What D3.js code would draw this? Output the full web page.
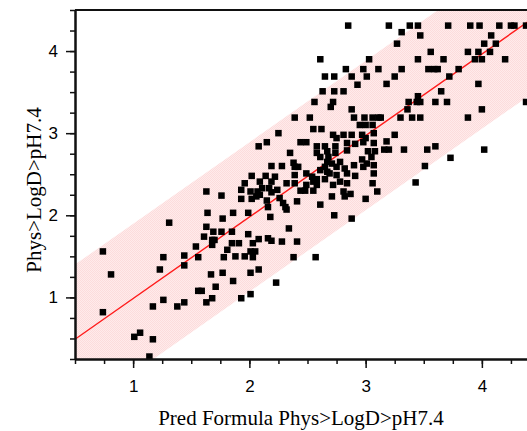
<!DOCTYPE html>
<html>
<head>
<meta charset="utf-8">
<script src="https://cdn.jsdelivr.net/npm/d3@7"></script>
<style>
body { margin: 0; background: #fff; }
svg { display: block; }
</style>
</head>
<body>
<svg id="chart" width="527" height="431"></svg>
<script>
let predX = [
  1.63,1.76,1.64,1.77,1.31,1.63,1.69,1.76,1.61,1.68,1.70,1.68,1.54,0.74,1.26,1.44,1.56,1.78,1.44,1.23,
  0.81,1.67,1.77,1.71,1.56,1.59,1.26,1.44,1.68,1.63,1.17,1.38,0.74,1.06,1.01,1.17,1.14,
  2.01,2.08,1.86,2.23,2.01,1.93,
  2.25,2.55,2.62,2.72,2.81,2.75,2.88,2.97,3.00,3.07,
  2.08,2.15,2.44,2.49,2.58,2.65,2.74,2.84,2.91,2.98,3.07,
  2.35,2.58,2.61,2.67,2.68,2.74,2.84,3.02,3.08,
  2.67,2.71,2.78,2.97,3.01,3.05,
  2.19,2.28,2.38,2.39,2.42,2.61,2.65,2.67,2.69,2.75,2.82,2.90,2.98,3.07,
  2.02,2.14,2.22,2.39,2.49,2.54,2.58,2.65,2.75,2.84,2.91,3.07,
  1.96,2.09,2.19,2.32,2.39,2.49,2.55,2.58,2.72,2.78,2.84,3.06,
  1.93,2.01,2.07,2.11,2.17,2.19,2.24,2.44,2.48,2.55,2.71,2.81,2.82,2.87,3.00,3.10,
  1.93,2.02,2.06,2.09,2.15,2.26,2.29,2.41,2.61,
  2.16,2.31,2.32,2.73,2.88,1.86,1.99,2.18,
  1.85,1.99,2.34,
  1.85,1.91,2.08,2.16,2.19,2.41,2.03,2.28,
  1.81,2.01,2.05,1.88,1.96,2.03,2.38,2.57,
  2.85,2.61,3.03,2.83,2.98,2.65,2.73,2.88,3.01,2.93,2.63,2.73,2.81,2.72,2.56,2.70,2.88,
  2.39,2.52,2.90,2.99,3.06,2.95,3.00,3.06,
  3.20,3.38,3.45,3.71,3.90,3.98,4.15,4.25,4.28,4.38,
  3.31,3.47,3.27,4.08,4.02,4.12,3.56,3.88,3.97,4.07,
  3.45,3.67,3.94,4.00,4.20,3.11,3.31,3.54,3.59,3.62,3.80,
  3.25,3.72,3.18,3.97,3.65,3.45,3.37,3.44,3.47,3.60,3.70,4.38,3.36,4.00,
  3.11,3.13,3.30,3.40,3.47,3.88,
  3.25,3.18,3.16,3.20,3.33,3.53,3.60,4.02,3.73,3.51,3.43
]
let physY = [
  2.29,2.24,2.03,1.96,1.91,1.86,1.80,1.80,1.74,1.70,1.70,1.64,1.62,1.56,1.49,1.51,1.49,1.49,1.39,1.34,
  1.28,1.28,1.30,1.13,1.08,1.08,0.97,0.94,0.99,0.94,0.89,0.89,0.82,0.57,0.52,0.49,0.28,
  1.30,1.34,1.20,1.18,1.04,0.99,
  3.00,3.05,3.05,2.98,2.98,2.94,2.98,2.98,2.94,3.00,
  2.84,2.89,2.89,2.89,2.84,2.84,2.84,2.88,2.87,2.89,2.88,
  2.76,2.76,2.71,2.78,2.71,2.76,2.79,2.78,2.78,
  2.65,2.63,2.65,2.68,2.63,2.71,
  2.60,2.60,2.64,2.59,2.59,2.55,2.59,2.53,2.51,2.59,2.57,2.61,2.59,2.61,
  2.48,2.48,2.47,2.49,2.51,2.47,2.44,2.44,2.49,2.51,2.48,2.51,
  2.39,2.41,2.41,2.39,2.39,2.37,2.41,2.37,2.37,2.41,2.39,2.39,
  2.31,2.29,2.29,2.33,2.33,2.28,2.31,2.30,2.30,2.30,2.23,2.29,2.23,2.26,2.20,2.29,
  2.20,2.20,2.23,2.25,2.18,2.21,2.15,2.17,2.13,
  2.10,2.10,2.07,2.00,1.96,2.03,2.03,1.98,
  1.80,1.77,1.84,
  1.66,1.66,1.71,1.72,1.69,1.68,1.66,1.68,
  1.58,1.56,1.56,1.50,1.50,1.49,1.49,1.49,
  4.31,3.90,3.90,3.78,3.78,3.69,3.69,3.69,3.69,3.59,3.51,3.51,3.51,3.38,3.38,3.32,3.29,
  3.19,3.19,3.19,3.19,3.19,3.10,3.10,3.10,
  4.31,4.31,4.31,4.31,4.31,4.31,4.31,4.31,4.31,4.31,
  4.23,4.19,4.09,4.19,4.09,4.09,3.99,3.99,3.99,3.99,
  3.90,3.90,3.90,3.90,3.90,3.78,3.78,3.78,3.78,3.78,3.78,
  3.69,3.69,3.60,3.60,3.51,3.45,3.38,3.38,3.38,3.38,3.38,3.38,3.29,3.29,
  3.19,3.19,3.19,3.19,3.19,3.19,
  2.98,2.90,2.80,2.80,2.80,2.80,2.84,2.80,2.70,2.60,2.40
]

// fitted line and its prediction band
let fitX = [0.5, 4.5]
let fitY = [0.49, 4.46]
let bandLow = [-0.42, 3.55]
let bandHigh = [1.40, 5.37]

let xTicks = [1, 2, 3, 4]
let yTicks = [1, 2, 3, 4]
let xDomain = [0.5, 4.5]
let yDomain = [0.25, 4.5]

let svg = d3.select('#chart')
let mLeft = 75, mTop = 10, mBottom = 359, plotW = 465

let x = d3.scaleLinear().domain(xDomain).range([mLeft, mLeft + plotW])
let y = d3.scaleLinear().domain(yDomain).range([mBottom, mTop])

let defs = svg.append('defs')
defs.append('clipPath').attr('id', 'plot')
  .append('rect')
  .attr('x', mLeft).attr('y', mTop)
  .attr('width', plotW).attr('height', mBottom - mTop)

// faint checker texture of the band
let pat = defs.append('pattern').attr('id', 'pink')
  .attr('width', 2).attr('height', 2).attr('patternUnits', 'userSpaceOnUse')
pat.append('rect').attr('width', 2).attr('height', 2).attr('fill', '#ffebeb')
pat.append('rect').attr('width', 1).attr('height', 1).attr('fill', '#fcdcdc')
pat.append('rect').attr('x', 1).attr('y', 1).attr('width', 1).attr('height', 1).attr('fill', '#fcdcdc')

let plot = svg.append('g').attr('clip-path', 'url(#plot)')

let area = d3.area()
  .x((d, i) => x(fitX[i]))
  .y0((d, i) => y(bandLow[i]))
  .y1((d, i) => y(bandHigh[i]))
plot.append('path').datum(fitX).attr('d', area).attr('fill', 'url(#pink)')

let line = d3.line().x((d, i) => x(fitX[i])).y((d, i) => y(fitY[i]))
plot.append('path').datum(fitX).attr('d', line)
  .attr('fill', 'none').attr('stroke', '#ff1a1a').attr('stroke-width', 1.4)

let sz = 6.5
plot.selectAll('rect.pt')
  .data(predX)
  .enter()
  .append('rect')
  .attr('class', 'pt')
  .attr('x', (d) => x(d) - sz / 2)
  .attr('y', (d, i) => y(physY[i]) - sz / 2)
  .attr('width', sz).attr('height', sz)
  .attr('fill', '#000')

// axes
let minorX = d3.range(0.5, 4.51, 0.25)
let minorY = d3.range(0.25, 4.51, 0.25)

let styleAxis = (g) => {
  g.select('.domain').attr('stroke', '#111').attr('stroke-width', 2)
  g.selectAll('.tick line').attr('stroke', '#111').attr('stroke-width', 1.5)
  g.selectAll('text').attr('font-family', '"Liberation Sans", Arial, sans-serif')
    .attr('font-size', 17).attr('fill', '#000')
}

svg.append('g').attr('transform', `translate(0,${mBottom})`)
  .call(d3.axisBottom(x).tickValues(minorX).tickSize(5).tickSizeOuter(0).tickFormat(''))
  .call(styleAxis)
svg.append('g').attr('transform', `translate(0,${mBottom})`)
  .call(d3.axisBottom(x).tickValues(xTicks).tickSize(9).tickSizeOuter(0).tickPadding(12).tickFormat(d3.format('d')))
  .call(styleAxis)

svg.append('g').attr('transform', `translate(${mLeft},0)`)
  .call(d3.axisLeft(y).tickValues(minorY).tickSize(5).tickSizeOuter(0).tickFormat(''))
  .call(styleAxis)
svg.append('g').attr('transform', `translate(${mLeft},0)`)
  .call(d3.axisLeft(y).tickValues(yTicks).tickSize(9).tickSizeOuter(0).tickPadding(8).tickFormat(d3.format('d')))
  .call(styleAxis)

// top frame
svg.append('line')
  .attr('x1', mLeft).attr('x2', mLeft + plotW)
  .attr('y1', mTop).attr('y2', mTop)
  .attr('stroke', '#111').attr('stroke-width', 2)

svg.append('text')
  .attr('x', 301).attr('y', 425)
  .attr('text-anchor', 'middle')
  .attr('font-family', '"Liberation Serif", "Times New Roman", serif')
  .attr('font-size', 21)
  .text('Pred Formula Phys>LogD>pH7.4')

svg.append('text')
  .attr('transform', 'translate(41,190) rotate(-90)')
  .attr('text-anchor', 'middle')
  .attr('font-family', '"Liberation Serif", "Times New Roman", serif')
  .attr('font-size', 21)
  .text('Phys>LogD>pH7.4')
</script>
</body>
</html>
